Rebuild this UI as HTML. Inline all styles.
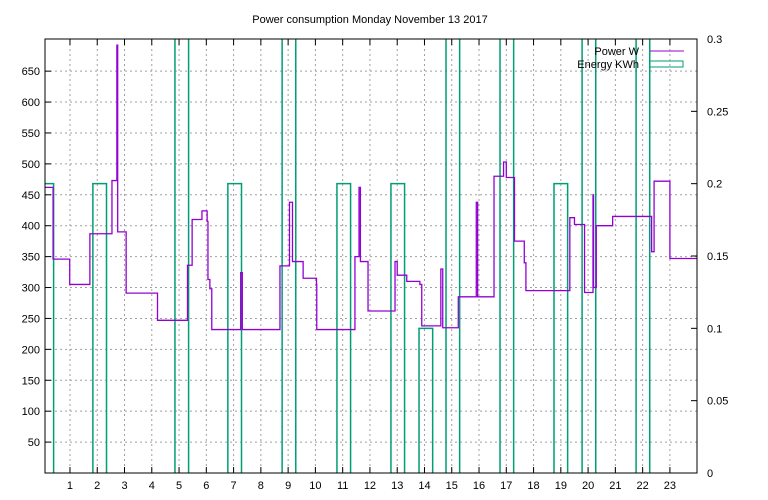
<!DOCTYPE html>
<html><head><meta charset="utf-8"><style>
body{margin:0;background:#fff}
svg{display:block;font-family:"Liberation Sans",sans-serif;font-size:11px}
</style></head><body>
<svg id="c" width="768" height="500">
<text x="370" y="23" text-anchor="middle">Power consumption Monday November 13 2017</text>
</svg>
<script>
const powerHours=[0.08,0.38,0.99,1.73,2.54,2.72,2.75,3.06,4.21,5.31,5.48,5.84,6.03,6.06,6.13,6.2,7.26,7.32,8.7,9.05,9.16,9.55,10.04,10.05,11.45,11.6,11.65,11.93,12.92,13.0,13.35,13.83,13.9,14.6,14.67,15.24,15.9,15.95,16.55,16.9,17.0,17.3,17.66,17.72,19.33,19.5,19.87,20.18,20.2,20.3,20.9,22.33,22.42,23.0];
const powerWatts=[462,346,305,387,473,692,390,291,247,336,410,424,407,313,298,232,324,232,335,438,342,315,305,232,350,462,342,262,342,320,310,305,238,330,235,285,438,285,480,503,478,375,340,295,413,402,292,450,300,400,415,358,472,347];
const boxStarts=[-0.1,1.84,4.85,6.79,8.78,10.79,12.77,13.8,14.79,16.77,18.75,19.78,21.76];
const boxValues=[0.2,0.2,0.35,0.2,0.35,0.2,0.2,0.1,0.35,0.35,0.2,0.35,0.35];
const xTicks=[1,2,3,4,5,6,7,8,9,10,11,12,13,14,15,16,17,18,19,20,21,22,23];
const yTicks=[50,100,150,200,250,300,350,400,450,500,550,600,650];
const y2Ticks=[0,0.05,0.1,0.15,0.2,0.25,0.3];
const L=45,R=697,T=39,B=473;
const X=h=>42.7+h*27.27;
const Y=w=>B-w*(B-T)/702;
const Y2=e=>B-e*(B-T)/0.3;
const svg=document.getElementById('c');
const NS='http://www.w3.org/2000/svg';
function mk(t,a,p){const e=document.createElementNS(NS,t);for(const k in a)e.setAttribute(k,a[k]);(p||svg).appendChild(e);return e;}
const defs=mk('defs',{});const cp=mk('clipPath',{id:'clip'},defs);mk('rect',{x:L,y:T,width:R-L,height:B-T},cp);
xTicks.forEach(t=>{const x=X(t);
 const g=mk('line',{x1:x,y1:T,x2:x,y2:B,stroke:'#a0a0a0','stroke-dasharray':'2,3'});
 
 
 mk('line',{x1:x,y1:B,x2:x,y2:B-6,stroke:'#000'});mk('line',{x1:x,y1:T,x2:x,y2:T+6,stroke:'#000'});
 const tx=mk('text',{x:x,y:B+16,'text-anchor':'middle'});tx.textContent=t;
 
 });
yTicks.forEach(t=>{const y=Y(t);
 const g=mk('line',{x1:L,y1:y,x2:R,y2:y,stroke:'#a0a0a0','stroke-dasharray':'2,3'});
 
 
 mk('line',{x1:L,y1:y,x2:L+6,y2:y,stroke:'#000'});
 const tx=mk('text',{x:L-5,y:y+4,'text-anchor':'end'});tx.textContent=t;
 
 });
y2Ticks.forEach(t=>{const y=Y2(t);
 mk('line',{x1:R,y1:y,x2:R-6,y2:y,stroke:'#000'});
 const tx=mk('text',{x:R+10,y:y+4});tx.textContent=t;
 
 });
const gp=mk('g',{'clip-path':'url(#clip)'});
boxStarts.forEach((s,i)=>{const x1=X(s),x2=X(s+0.5),y=Y2(boxValues[i]);
 const p=mk('path',{d:`M${x1},${B}V${y}H${x2}V${B}`,fill:'none',stroke:'#009e73','stroke-width':1.5},gp);
 
 });
let d='';powerHours.forEach((h,i)=>{const x=X(h),y=Y(powerWatts[i]);d+=(i?`V${y}`:`M${x},${y}`);const nx=i+1<powerHours.length?X(powerHours[i+1]):R;d+=`H${nx}`;});
const pl=mk('path',{d:d,fill:'none',stroke:'#9400d3','stroke-width':1.3},gp);


const fr=mk('rect',{x:L,y:T,width:R-L,height:B-T,fill:'none',stroke:'#000'});


const l1=mk('text',{x:639,y:55,'text-anchor':'end'});l1.textContent='Power W';


mk('line',{x1:650,y1:51,x2:684,y2:51,stroke:'#9400d3'});
const l2=mk('text',{x:639,y:68,'text-anchor':'end'});l2.textContent='Energy KWh';


mk('rect',{x:650,y:61,width:33,height:6,fill:'none',stroke:'#009e73'});
</script>
</body></html>
